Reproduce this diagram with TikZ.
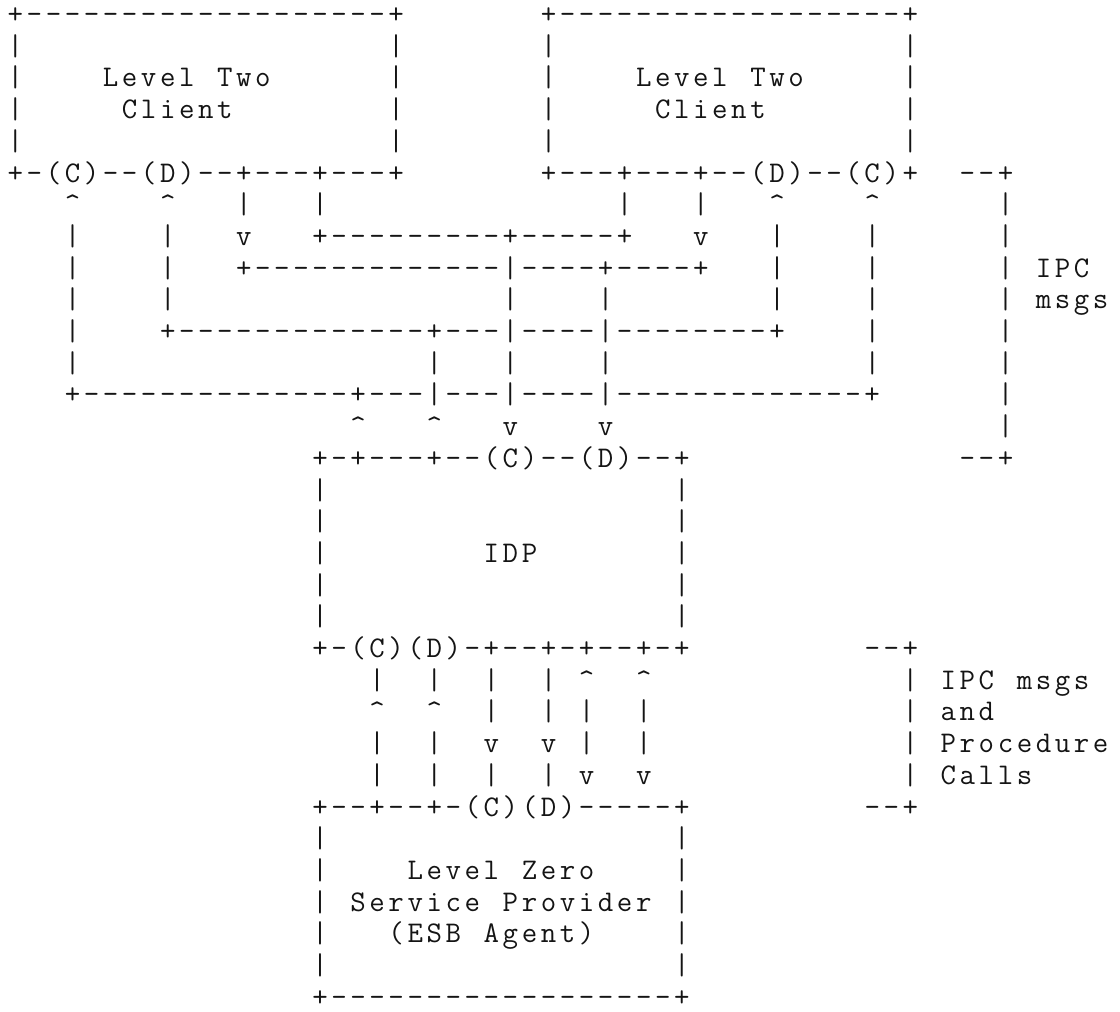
\documentclass[tikz,border=0pt]{standalone}
\usetikzlibrary{positioning,calc}
\definecolor{asciiInk}{HTML}{141414}

\newcommand\up{\textasciicircum}
\newlength\cw
\setlength\cw{9.52pt}   % one typewriter cell
\newcommand\spreadchars[1]{\spreadstep#1\relax}
\def\spreadstep#1{\ifx#1\relax\else\makebox[\cw][c]{#1}\expandafter\spreadstep\fi}

\begin{document}
\begin{tikzpicture}[x=0.5pt, y=0.5pt,
  ascii/.style={font=\fontsize{15}{17}\selectfont\ttfamily, text=asciiInk,
    inner sep=0pt, anchor=base west}]

\def\xO{5.5}     % left edge of column 0
\def\yO{23.5}    % baseline of row 0
\def\pw{19.04}   % column pitch
\def\rh{31.7}    % row pitch

% one typed row: list of column/text pairs
\newcommand\asciirow[2]{%
  \foreach \c/\s in {#2} {
    \node[ascii] (r#1c\c) at ({\xO + \pw*\c}, {-\yO - \rh*#1})
      {\expandafter\spreadchars\expandafter{\s}};
  }%
}

\useasboundingbox (0,0) rectangle (1120,-1012);

% --- LEVEL TWO CLIENTS ---
\asciirow{0}{0/{+-------------------+}, 28/{+------------------+}}
\asciirow{1}{0/|, 20/|, 28/|, 47/|}
\asciirow{2}{0/|, 5/Level~Two, 20/|, 28/|, 33/Level~Two, 47/|}
\asciirow{3}{0/|, 6/Client, 20/|, 28/|, 34/Client, 47/|}
\asciirow{4}{0/|, 20/|, 28/|, 47/|}
\asciirow{5}{0/{+-(C)--(D)--+---+---+}, 28/{+---+---+--(D)--(C)+}, 50/{--+}}

% --- WIRING TO THE IDP ---
\asciirow{6}{3/\up, 8/\up, 12/|, 16/|, 32/|, 36/|, 40/\up, 45/\up, 52/|}
\asciirow{7}{3/|, 8/|, 12/v, 16/{+---------+-----+}, 36/v, 40/|, 45/|, 52/|}
\asciirow{8}{3/|, 8/|, 12/{+-------------|----+----+}, 40/|, 45/|, 52/|~IPC}
\asciirow{9}{3/|, 8/|, 26/|, 31/|, 40/|, 45/|, 52/|~msgs}
\asciirow{10}{3/|, 8/{+-------------+---|----|--------+}, 45/|, 52/|}
\asciirow{11}{3/|, 22/|, 26/|, 31/|, 45/|, 52/|}
\asciirow{12}{3/{+--------------+---|---|----|-------------+}, 52/|}
\asciirow{13}{18/\up, 22/\up, 26/v, 31/v, 52/|}

% --- IDP ---
\asciirow{14}{16/{+-+---+--(C)--(D)--+}, 50/{--+}}
\asciirow{15}{16/|, 35/|}
\asciirow{16}{16/|, 35/|}
\asciirow{17}{16/|, 25/IDP, 35/|}
\asciirow{18}{16/|, 35/|}
\asciirow{19}{16/|, 35/|}
\asciirow{20}{16/{+-(C)(D)-+--+-+--+-+}, 45/{--+}}

% --- IPC AND PROCEDURE CALLS ---
\asciirow{21}{19/|, 22/|, 25/|, 28/|, 30/\up, 33/\up, 47/|~IPC~msgs}
\asciirow{22}{19/\up, 22/\up, 25/|, 28/|, 30/|, 33/|, 47/|~and}
\asciirow{23}{19/|, 22/|, 25/v, 28/v, 30/|, 33/|, 47/|~Procedure}
\asciirow{24}{19/|, 22/|, 25/|, 28/|, 30/v, 33/v, 47/|~Calls}

% --- LEVEL ZERO SERVICE PROVIDER ---
\asciirow{25}{16/{+--+--+-(C)(D)-----+}, 45/{--+}}
\asciirow{26}{16/|, 35/|}
\asciirow{27}{16/|, 21/Level~Zero, 35/|}
\asciirow{28}{16/|, 18/Service~Provider, 35/|}
\asciirow{29}{16/|, 20/{(ESB~Agent)}, 35/|}
\asciirow{30}{16/|, 35/|}
\asciirow{31}{16/{+------------------+}}

\end{tikzpicture}
\end{document}
